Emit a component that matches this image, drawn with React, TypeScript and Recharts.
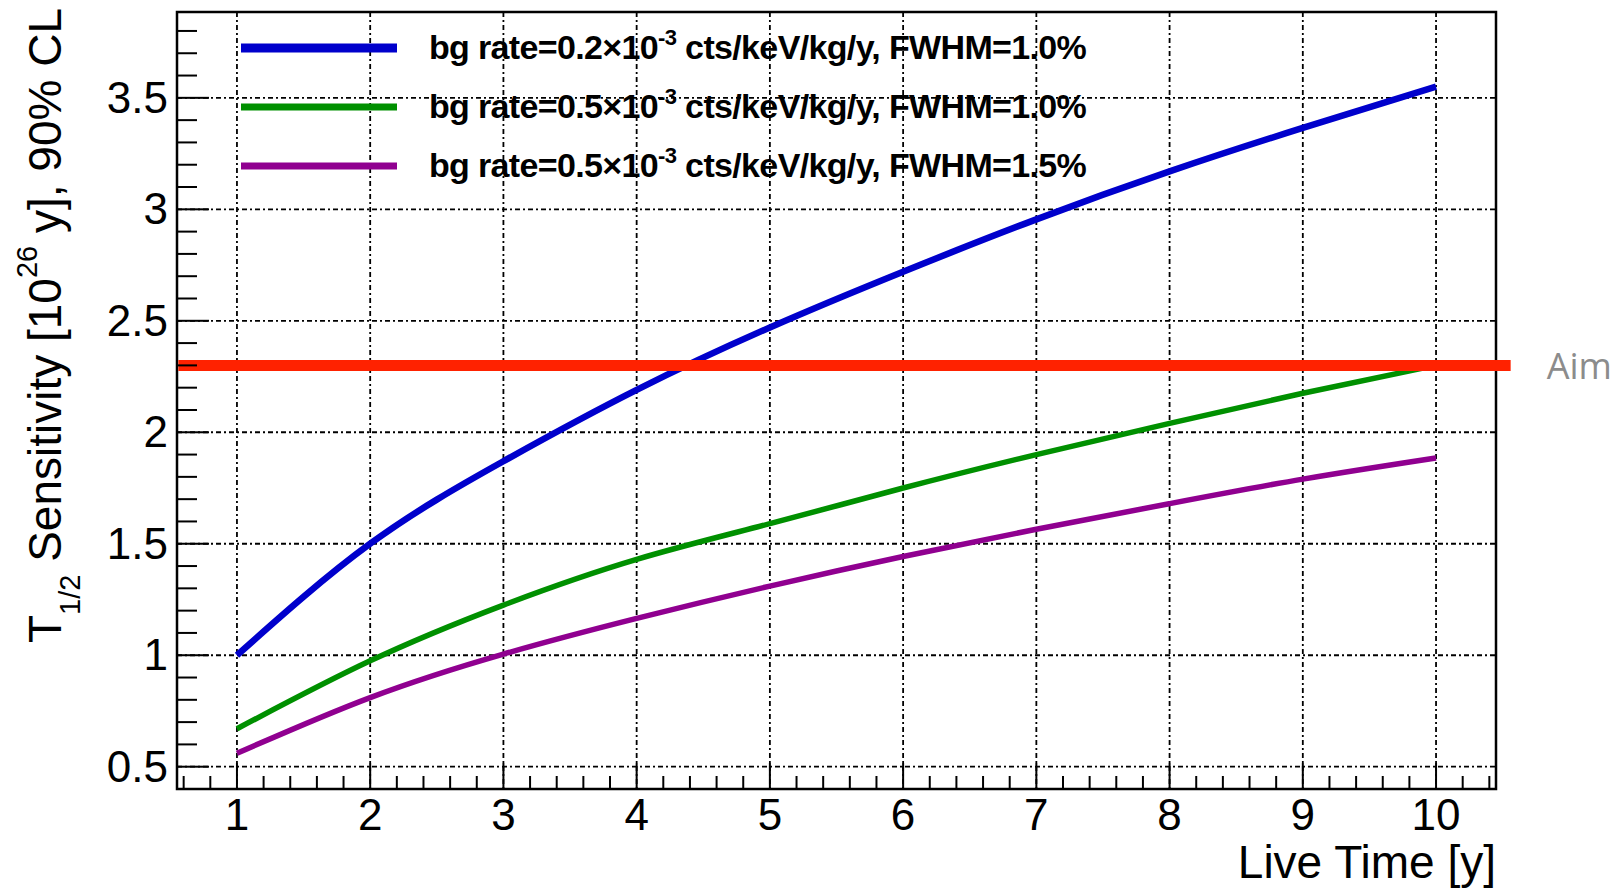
import React from 'react';
import { LineChart, Line, XAxis, YAxis, CartesianGrid, ReferenceLine, ReferenceArea, Legend } from 'recharts';

// live time in years
const liveTime = [1, 2, 3, 4, 5, 6, 7, 8, 9, 10];

// T1/2 sensitivity [1e26 y], 90% CL
const bg02Fwhm10 = [1.0, 1.5, 1.87, 2.19, 2.47, 2.72, 2.955, 3.17, 3.365, 3.55];
const bg05Fwhm10 = [0.67, 0.975, 1.225, 1.43, 1.59, 1.75, 1.9, 2.04, 2.175, 2.3];
const bg05Fwhm15 = [0.56, 0.81, 1.005, 1.165, 1.31, 1.443, 1.565, 1.68, 1.79, 1.885];

const seriesKeys = ['bg02Fwhm10', 'bg05Fwhm10', 'bg05Fwhm15'];
const seriesRates = ['0.2', '0.5', '0.5'];
const seriesFwhm = ['1.0%', '1.0%', '1.5%'];
const seriesColors = ['#0000cc', '#009000', '#900090'];

const aimValue = 2.3;

const xMajorTicks = [1, 2, 3, 4, 5, 6, 7, 8, 9, 10];
const yMajorTicks = [0.5, 1, 1.5, 2, 2.5, 3, 3.5];
const xAllTicks = Array.from({ length: 50 }, (_, k) => (6 + 2 * k) / 10);
const yAllTicks = Array.from({ length: 34 }, (_, k) => (5 + k) / 10);

const X_DOMAIN: [number, number] = [0.55, 10.45];
const Y_DOMAIN: [number, number] = [0.4, 3.885];

const data = liveTime.map((t, i) => ({
    t,
    bg02Fwhm10: bg02Fwhm10[i],
    bg05Fwhm10: bg05Fwhm10[i],
    bg05Fwhm15: bg05Fwhm15[i],
}));

const helv = '"Liberation Sans", Arial, Helvetica, sans-serif';

const isMajor = (v: number, majors: number[]) => majors.some((m) => Math.abs(m - v) < 1e-6);

function XTick(props: any) {
    const { x, y, payload } = props;
    const major = isMajor(payload.value, xMajorTicks);
    return (
        <g>
            <line x1={x} y1={y} x2={x} y2={y - (major ? 26 : 13)} stroke="#000" strokeWidth={2} />
            {major && (
                <text x={x} y={y + 41} textAnchor="middle" fontSize={44} fontFamily={helv} fill="#000">
                    {payload.value}
                </text>
            )}
        </g>
    );
}

function YTick(props: any) {
    const { x, y, payload } = props;
    const major = isMajor(payload.value, yMajorTicks);
    return (
        <g>
            <line x1={x} y1={y} x2={x + (major ? 32 : 20)} y2={y} stroke="#000" strokeWidth={2} />
            {major && (
                <text x={x - 9} y={y + 15} textAnchor="end" fontSize={44} fontFamily={helv} fill="#000">
                    {payload.value}
                </text>
            )}
        </g>
    );
}

function XTitle(props: any) {
    const { viewBox } = props;
    return (
        <text x={viewBox.x + viewBox.width} y={viewBox.y + 89} textAnchor="end" fontSize={46} fontFamily={helv} fill="#000">
            Live Time [y]
        </text>
    );
}

function YTitle(props: any) {
    const { viewBox } = props;
    const x = viewBox.x + viewBox.width - 116;
    const y = viewBox.y - 4;
    return (
        <text x={x} y={y} transform={`rotate(-90, ${x}, ${y})`} textAnchor="end" fontSize={46} fontFamily={helv} fill="#000">
            T
            <tspan fontSize={29} dy={19}>1/2</tspan>
            <tspan dy={-19}> Sensitivity [10</tspan>
            <tspan fontSize={29} dy={-24}>26</tspan>
            <tspan dy={24}> y], 90% CL</tspan>
        </text>
    );
}

function AimLabel(props: any) {
    const { viewBox } = props;
    return (
        <text x={viewBox.x + viewBox.width + 36} y={viewBox.y + 14} fontSize={36} fontFamily='"Open Sans", "Noto Sans", sans-serif' fill="#8c8c8c">
            Aim
        </text>
    );
}

function LegendBox() {
    return (
        <svg width={1623} height={200} style={{ display: 'block' }}>
            {seriesKeys.map((k, i) => (
                <g key={k}>
                    <line x1={241} x2={397} y1={48 + i * 59} y2={48 + i * 59} stroke={seriesColors[i]} strokeWidth={i === 0 ? 9 : 7} />
                    <text x={429} y={59 + i * 59} fontSize={34} letterSpacing={-0.65} fontWeight="bold" fontFamily={helv} fill="#000">
                        {`bg rate=${seriesRates[i]}×10`}
                        <tspan fontSize={22} dy={-14}>-3</tspan>
                        <tspan dy={14}>{` cts/keV/kg/y, FWHM=${seriesFwhm[i]}`}</tspan>
                    </text>
                </g>
            ))}
        </svg>
    );
}

export default function App() {
    return (
        <div style={{ position: 'absolute', left: 0, top: 0, width: 1623, height: 889, background: '#fff' }}>
            <LineChart width={1623} height={889} data={data} margin={{ top: 12, right: 127, bottom: 40, left: 117 }}>
                <CartesianGrid
                    stroke="#000"
                    strokeWidth={1.8}
                    strokeDasharray="5 3 2 3"
                    horizontalValues={yMajorTicks}
                    verticalValues={xMajorTicks}
                />
                <XAxis
                    dataKey="t"
                    type="number"
                    domain={X_DOMAIN}
                    allowDataOverflow
                    ticks={xAllTicks}
                    interval={0}
                    height={60}
                    tickSize={0}
                    tickMargin={0}
                    axisLine={false}
                    tick={<XTick />}
                    label={<XTitle />}
                />
                <YAxis
                    type="number"
                    domain={Y_DOMAIN}
                    allowDataOverflow
                    ticks={yAllTicks}
                    interval={0}
                    width={60}
                    tickSize={0}
                    tickMargin={0}
                    axisLine={false}
                    tick={<YTick />}
                    label={<YTitle />}
                />
                <ReferenceArea x1={X_DOMAIN[0]} x2={X_DOMAIN[1]} y1={Y_DOMAIN[0]} y2={Y_DOMAIN[1]} fill="none" stroke="#000" strokeWidth={2.5} ifOverflow="visible" />
                {seriesKeys.map((k, i) => (
                    <Line
                        key={k}
                        dataKey={k}
                        type="natural"
                        stroke={seriesColors[i]}
                        strokeWidth={i === 0 ? 6.5 : 5.5}
                        dot={false}
                        isAnimationActive={false}
                    />
                ))}
                <ReferenceLine
                    segment={[{ x: 0.56, y: aimValue }, { x: 10.56, y: aimValue }]}
                    stroke="#ff2200"
                    strokeWidth={11}
                    ifOverflow="visible"
                    label={<AimLabel />}
                />
                <Legend
                    layout="horizontal"
                    verticalAlign="middle"
                    align="center"
                    wrapperStyle={{ left: 0, top: 0, width: 1623, height: 200, pointerEvents: 'none' }}
                    content={() => <LegendBox />}
                />
            </LineChart>
        </div>
    );
}
